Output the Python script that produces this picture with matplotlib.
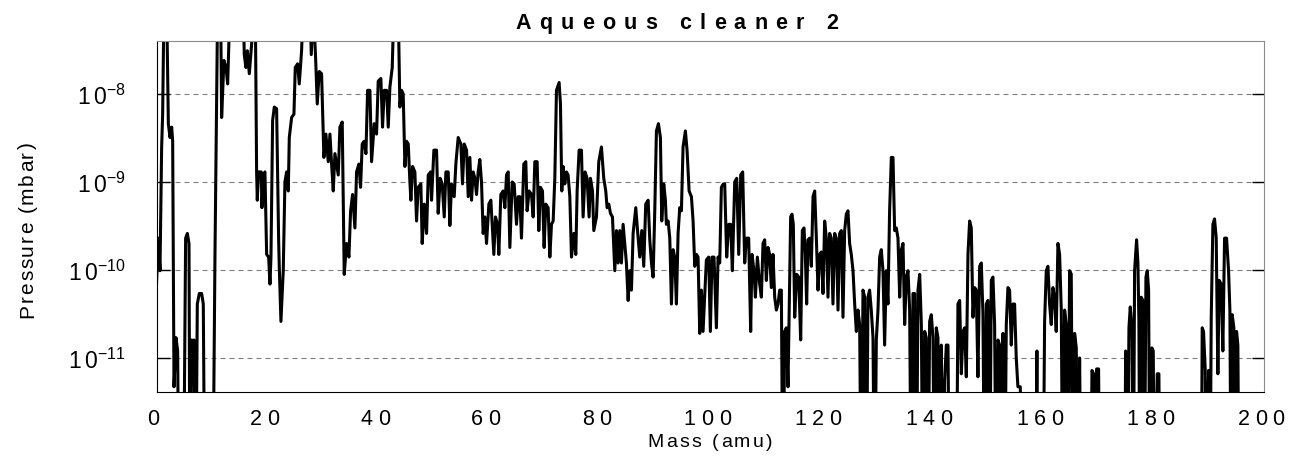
import numpy as np
import matplotlib.pyplot as plt
from matplotlib.ticker import FixedLocator, NullLocator
from matplotlib.font_manager import FontProperties, findfont, get_font

plt.rcParams['font.family'] = ['Liberation Sans', 'DejaVu Sans']

# mass spectrum, in segments (amu, mbar)
# 1e-7 = off the top of the scale, 1e-13 = below the bottom
mass_1 = [0.0, 0.33, 0.63, 0.93, 1.11, 1.35, 1.84, 2.14, 2.44, 2.74, 2.92, 3.16, 3.52, 3.82, 4.06,
          4.84, 5.26, 5.57, 5.87, 6.05, 6.35, 6.53, 6.77, 7.07, 7.37, 7.73, 8.15, 8.45, 8.75, 10.14,
          10.56, 10.86, 11.04, 11.58, 11.76, 12.18, 12.55, 12.85, 13.27, 15.67, 15.85, 16.15, 16.40,
          16.76, 17.18, 17.60, 17.84, 18.08, 18.20, 18.44, 18.92, 19.04, 19.28, 19.58, 19.89, 20.25,
          20.49, 20.67, 20.97, 21.27, 21.69, 22.05, 22.17, 22.47, 22.89, 23.19, 23.50, 23.80, 23.98,
          24.40, 24.82, 25.06, 25.48, 25.78, 26.20, 26.50, 27.71, 27.95, 28.31, 28.73, 29.03, 29.39,
          29.81, 30.11, 30.23, 30.59, 31.02, 31.32, 31.62, 31.92]
press_1 = [6.9e-11, 2.3e-10, 9.8e-11, 2.5e-9, 5.9e-9, 1e-7, 1e-7, 4.6e-9, 3.2e-9, 4.2e-9, 2.9e-9,
           4.7e-12, 1.7e-11, 1.2e-11, 1e-13, 1e-13, 2.3e-10, 2.6e-10, 2.0e-10, 1e-13, 1.6e-11, 7.2e-12,
           1.6e-11, 1e-13, 4.1e-11, 5.4e-11, 5.4e-11, 4.1e-11, 1e-13, 1e-13, 1.5e-10, 7.7e-9, 1e-7,
           1e-7, 5.4e-9, 2.4e-8, 2.0e-8, 1.3e-8, 1e-7, 1e-7, 2.8e-8, 2.0e-8, 3.1e-8, 1.7e-8, 3.7e-8,
           1e-7, 1e-7, 1.3e-9, 6.2e-10, 1.3e-9, 1.3e-9, 5.1e-10, 1.2e-9, 1.3e-9, 1.5e-10, 1.4e-10,
           6.9e-11, 1.4e-10, 5.0e-9, 7.1e-9, 6.8e-9, 2.3e-10, 1.1e-10, 2.6e-11, 9.8e-11, 1.0e-9,
           1.3e-9, 7.9e-10, 3.2e-9, 5.4e-9, 5.9e-9, 2.0e-8, 2.2e-8, 1.3e-8, 3.1e-8, 1e-7, 1e-7,
           2.8e-8, 1e-7, 2.6e-8, 7.7e-9, 1.8e-8, 1.7e-8, 3.8e-9, 1.9e-9, 3.5e-9, 1.7e-9, 3.5e-9,
           1.6e-9, 7.9e-10]

mass_2 = [32.22, 32.82, 33.12, 33.54, 33.90, 34.33, 34.75, 35.05, 35.41, 35.83, 36.13, 36.55, 36.85,
          37.15, 37.51, 37.82, 38.12, 38.54, 38.84, 39.32, 39.74, 40.04, 40.52, 40.82, 41.13, 41.55,
          41.85, 42.15, 42.57, 42.87, 43.65, 43.95, 44.25, 44.55, 44.86, 45.16, 45.46, 45.76, 45.94,
          46.24, 46.66, 46.96, 47.26, 47.74, 47.98, 48.35, 48.77, 49.07, 49.49, 49.67, 50.09, 50.57,
          50.87, 51.23, 51.59, 51.96, 52.26, 52.68, 52.98, 53.28, 53.76, 54.06, 54.48, 54.96, 55.26,
          55.57, 55.99, 56.29, 56.59, 56.89, 57.19, 57.49, 57.79, 58.09, 58.39, 58.69, 58.99, 59.30,
          59.60, 60.02, 60.38, 60.62, 60.92, 61.22, 61.58, 61.82, 62.18, 62.60, 62.91, 63.21, 63.51,
          63.81, 64.23, 64.59, 65.01, 65.31]
press_2 = [2.1e-9, 1.2e-9, 4.2e-9, 4.8e-9, 8.9e-11, 2.0e-10, 1.4e-10, 4.7e-10, 7.2e-10, 3.0e-10,
           1.3e-9, 1.6e-9, 8.7e-10, 2.7e-9, 2.9e-9, 2.1e-9, 1.1e-8, 1.1e-8, 1.7e-9, 4.6e-9, 3.5e-9,
           1.4e-8, 1.5e-8, 4.2e-9, 1.1e-8, 1.1e-8, 4.2e-9, 1.2e-8, 2.0e-8, 1e-7, 1e-7, 7.1e-9, 1.1e-8,
           1.0e-8, 1.5e-9, 2.9e-9, 2.7e-9, 1.0e-9, 6.2e-10, 1.5e-9, 1.3e-9, 3.6e-10, 8.7e-10, 9.5e-10,
           2.0e-10, 5.6e-10, 2.6e-10, 1.2e-9, 1.3e-9, 6.2e-10, 2.3e-9, 2.3e-9, 4.4e-10, 1.1e-9,
           9.5e-10, 4.0e-10, 1.3e-9, 1.3e-9, 3.2e-10, 9.5e-10, 6.8e-10, 1.6e-9, 3.2e-9, 2.7e-9,
           9.5e-10, 2.7e-9, 2.3e-9, 6.8e-10, 1.9e-9, 6.2e-10, 1.3e-9, 1.1e-9, 7.2e-10, 1.3e-9, 1.8e-9,
           1.0e-9, 2.6e-10, 4.0e-10, 2.0e-10, 5.6e-10, 6.2e-10, 3.3e-10, 1.5e-10, 4.0e-10, 3.3e-10,
           1.5e-10, 7.2e-10, 7.9e-10, 5.1e-10, 1.2e-9, 1.3e-9, 1.8e-10, 1.0e-9, 9.5e-10, 3.3e-10,
           6.8e-10]

mass_3 = [65.61, 65.91, 66.33, 66.69, 66.93, 67.29, 67.72, 68.02, 68.32, 68.74, 69.04, 69.34, 69.70,
          70.00, 70.30, 70.72, 71.03, 71.33, 71.63, 71.93, 72.23, 72.71, 72.95, 73.19, 73.43, 73.73,
          74.03, 74.33, 74.64, 74.94, 75.36, 75.72, 75.96, 76.32, 76.74, 77.04, 77.40, 77.76, 78.12,
          78.37, 78.73, 78.97, 79.45, 79.87, 80.35, 80.77, 81.13, 81.37, 81.68, 81.98, 82.34, 82.76,
          83.06, 83.36, 83.66, 83.96, 84.26, 84.56, 84.86, 85.17, 85.47, 85.77, 86.07, 86.55, 86.91,
          87.27, 87.63, 87.99, 88.35, 88.78, 89.08, 89.38, 89.68, 89.98, 90.28, 90.64, 91.00, 91.24,
          91.60, 91.90, 92.08, 92.39, 92.69, 92.99, 93.29, 93.59, 93.89, 94.19, 94.49, 94.79, 95.09,
          95.51, 95.81, 96.18, 96.60, 96.90, 97.20, 97.50, 97.80, 98.10, 98.40, 98.70]
press_3 = [6.8e-10, 2.3e-10, 1.6e-9, 1.7e-9, 4.7e-10, 7.9e-10, 7.2e-10, 4.0e-10, 1.7e-9, 1.7e-9,
           2.8e-10, 8.7e-10, 7.9e-10, 1.8e-10, 5.6e-10, 5.1e-10, 1.4e-10, 3.3e-10, 3.6e-10, 1.1e-9,
           1.1e-8, 1.35e-8, 7.7e-9, 7.9e-10, 1.5e-9, 9.5e-10, 1.3e-9, 1.2e-9, 6.8e-10, 1.4e-10,
           2.6e-10, 1.5e-10, 7.9e-10, 2.3e-9, 2.3e-9, 4.0e-10, 1.3e-9, 1.1e-9, 4.0e-10, 1.1e-9,
           7.9e-10, 2.8e-10, 4.0e-10, 1.7e-9, 2.5e-9, 1.1e-9, 7.9e-10, 5.1e-10, 5.6e-10, 4.4e-10,
           4.0e-10, 9.8e-11, 2.8e-10, 1.2e-10, 2.8e-10, 1.2e-10, 3.3e-10, 2.0e-10, 1.2e-10, 4.5e-11,
           9.8e-11, 5.9e-11, 2.6e-10, 5.1e-10, 2.6e-10, 1.4e-10, 2.8e-10, 1.1e-10, 5.6e-10, 6.2e-10,
           2.2e-10, 1.2e-10, 8.3e-11, 4.7e-10, 3.8e-9, 4.6e-9, 3.2e-9, 3.6e-10, 9.5e-10, 6.2e-10,
           3.3e-10, 3.6e-10, 2.3e-10, 4.1e-11, 1.7e-10, 1.4e-10, 4.1e-11, 2.6e-10, 5.1e-10, 4.7e-10,
           2.5e-9, 3.8e-9, 2.3e-9, 7.9e-10, 6.8e-10, 3.6e-10, 1.1e-10, 1.5e-10, 1.4e-10, 1.9e-11,
           5.9e-11, 2.0e-11]

mass_4 = [99.30, 99.72, 100.02, 100.32, 100.68, 101.11, 101.41, 101.71, 102.01, 102.37, 102.61,
          102.97, 103.33, 103.69, 103.99, 104.42, 104.78, 105.14, 105.50, 105.86, 106.22, 106.52,
          106.94, 107.30, 107.54, 107.90, 108.15, 108.51, 108.93, 109.23, 109.53, 109.83, 110.13,
          110.43, 110.73, 111.03, 111.33, 111.64, 111.94, 112.24, 112.54, 112.84, 113.14, 113.44,
          113.74, 114.04, 114.34, 114.52, 114.76, 115.00, 115.25, 115.61, 115.97, 116.33, 116.63,
          116.93, 117.17, 117.41, 117.65, 117.95, 118.25, 118.56, 118.86, 119.16, 119.46, 119.76,
          120.06, 120.36, 120.66, 120.96, 121.26, 121.56, 121.86, 122.16, 122.47, 122.77, 123.07,
          123.37, 123.67, 123.97, 124.27, 124.57, 124.87, 125.17, 125.47, 125.78, 126.08, 126.38,
          126.68, 126.98, 127.28, 127.58, 127.88, 128.18, 128.48, 128.78, 129.08, 129.39, 129.69,
          129.99, 130.29, 130.59, 130.89, 131.19, 131.49, 131.79, 132.09, 132.39]
press_4 = [1.3e-10, 1.4e-10, 2.0e-11, 1.4e-10, 1.4e-10, 2.2e-11, 1.4e-10, 1.2e-10, 8.7e-10, 9.5e-10,
           9.5e-10, 1.4e-10, 3.3e-10, 3.3e-10, 9.8e-11, 1.0e-9, 1.1e-9, 1.5e-10, 1.2e-9, 1.3e-9,
           1.2e-10, 2.3e-10, 2.3e-10, 2.0e-11, 1.5e-10, 9.8e-11, 4.9e-11, 1.4e-10, 6.9e-11, 4.9e-11,
           2.0e-10, 2.2e-10, 7.6e-11, 1.8e-10, 1.5e-10, 6.3e-11, 1.5e-10, 4.9e-11, 3.5e-11, 4.1e-11,
           5.9e-11, 5.9e-11, 1e-13, 2.0e-11, 2.2e-11, 4.7e-12, 8.3e-11, 4.0e-10, 4.3e-10, 3.3e-10,
           2.9e-11, 8.9e-11, 8.3e-11, 1.6e-11, 2.8e-10, 3.0e-10, 1.5e-10, 4.1e-11, 2.2e-10, 2.3e-10,
           1.1e-10, 6.8e-10, 7.9e-10, 2.3e-10, 5.9e-11, 1.5e-10, 1.6e-10, 5.4e-11, 3.6e-10, 2.3e-10,
           4.9e-11, 2.6e-10, 2.3e-10, 4.1e-11, 2.6e-10, 2.3e-10, 3.5e-11, 2.6e-10, 2.8e-10, 2.9e-11,
           2.8e-10, 4.3e-10, 4.7e-10, 2.0e-10, 1.5e-10, 9.8e-11, 4.1e-11, 2.0e-11, 3.5e-11, 2.4e-11,
           1e-13, 5.9e-11, 4.9e-11, 1e-13, 4.9e-11, 5.9e-11, 3.5e-11, 1.7e-11, 1e-13, 1.6e-11,
           3.5e-11, 1.4e-10, 1.7e-10, 9.8e-11, 1.4e-11, 9.8e-11, 4.1e-11, 4.7e-10]

mass_5 = [132.70, 133.00, 133.30, 133.60, 133.90, 134.21, 134.51, 134.81, 135.11, 135.41, 135.71,
          136.01, 136.31, 136.61, 136.91, 137.21, 137.51, 137.82, 138.12, 138.42, 138.72, 139.02,
          139.32, 139.62, 139.92, 140.22, 140.52, 140.82, 141.12, 141.43, 141.73, 142.03, 142.33,
          142.63, 142.93, 143.23, 144.43, 144.73, 145.04, 145.34, 145.64, 145.94, 146.24, 146.54,
          146.84, 147.14, 147.44, 147.74, 148.04, 148.34, 148.65, 148.95, 149.25, 149.55, 149.85,
          150.15, 150.45, 150.75, 151.05, 151.35, 151.65, 151.96, 152.26, 152.56, 152.86, 153.16,
          153.46, 153.76, 154.06, 154.36, 154.66, 154.96, 155.26, 155.56, 155.99, 156.17, 158.69,
          158.99, 159.18, 160.08, 160.38, 160.68, 160.98, 161.28, 161.58, 161.88, 162.18, 162.48,
          162.79, 163.09, 163.39, 163.69, 163.99, 164.29, 164.59, 164.89, 165.19, 165.49]
press_5 = [1.9e-9, 1.9e-9, 2.8e-10, 3.0e-10, 2.3e-10, 4.9e-11, 1.7e-10, 2.0e-10, 2.4e-11, 8.3e-11,
           9.8e-11, 3.5e-11, 1e-13, 5.4e-11, 5.4e-11, 1e-13, 5.9e-11, 8.9e-11, 2.4e-11, 1e-13,
           2.0e-11, 1.7e-11, 1e-13, 2.6e-11, 3.1e-11, 1.7e-11, 1e-13, 2.2e-11, 1.7e-11, 1e-13,
           1.4e-11, 1e-13, 5.5e-12, 1.4e-11, 1.4e-11, 1e-13, 1e-13, 4.1e-11, 4.5e-11, 6.6e-12,
           2.0e-11, 2.2e-11, 6.1e-12, 1.5e-10, 3.6e-10, 3.0e-10, 2.9e-11, 6.3e-11, 5.9e-11, 6.1e-12,
           1.1e-10, 1.2e-10, 3.1e-11, 1e-13, 4.1e-11, 4.5e-11, 1e-13, 7.6e-11, 8.3e-11, 2.4e-11,
           1e-13, 1.6e-11, 1.4e-11, 1e-13, 1.9e-11, 1e-13, 2.4e-11, 6.3e-11, 5.9e-11, 1.4e-11,
           4.1e-11, 4.1e-11, 1.0e-11, 4.7e-12, 4.7e-12, 1e-13, 1e-13, 1.2e-11, 1e-13, 1e-13, 2.6e-11,
           9.8e-11, 1.1e-10, 4.1e-11, 2.4e-11, 6.3e-11, 4.9e-11, 2.0e-11, 2.0e-10, 1.5e-10, 3.5e-11,
           1e-13, 3.5e-11, 2.4e-11, 1e-13, 9.8e-11, 9.0e-11, 1e-13]

mass_6 = [165.80, 166.10, 166.40, 166.70, 167.00, 168.69, 168.93, 169.23, 169.53, 169.77, 170.13,
          170.37, 174.83, 175.01, 175.31, 175.61, 175.85, 176.15, 176.39, 176.63, 176.99, 177.23,
          177.41, 177.59, 177.83, 178.13, 178.38, 178.68, 178.92, 179.16, 179.40, 179.76, 180.00,
          180.24, 180.72, 181.02, 181.26, 188.66, 188.84, 189.08, 189.39, 189.63, 189.99, 190.23,
          190.47, 190.77, 191.07, 191.37, 191.67, 191.91, 192.27, 192.57, 192.88, 193.24, 193.60,
          193.84, 194.08, 194.26, 194.56, 194.80, 195.04, 195.28, 195.52, 200.0]
press_6 = [1.9e-11, 1.3e-11, 1e-13, 1.0e-11, 1e-13, 1e-13, 7.2e-12, 6.6e-12, 1e-13, 7.5e-12, 7.5e-12,
           1e-13, 1e-13, 1.2e-11, 1e-13, 2.2e-11, 3.8e-11, 2.2e-11, 1e-13, 9.8e-11, 2.2e-10, 1.2e-10,
           2.6e-11, 1e-13, 4.9e-11, 4.5e-11, 1e-13, 8.3e-11, 9.8e-11, 5.9e-11, 1e-13, 1.3e-11,
           1.2e-11, 1e-13, 6.6e-12, 6.6e-12, 1e-13, 1e-13, 2.2e-11, 2.0e-11, 7.2e-12, 1e-13, 7.2e-12,
           1e-13, 2.9e-11, 3.3e-10, 3.8e-10, 2.3e-10, 6.6e-12, 7.6e-11, 6.9e-11, 1.2e-11, 2.3e-10,
           2.3e-10, 9.8e-11, 3.5e-11, 1e-13, 3.1e-11, 2.2e-11, 1e-13, 2.0e-11, 1.4e-11, 1e-13, 1e-13]

x_ticks = [0, 20, 40, 60, 80, 100, 120, 140, 160, 180, 200]
y_ticks = [1e-11, 1e-10, 1e-9, 1e-8]
y_exps = ['-11', '-10', '-9', '-8']

W, H = 1297, 477
fig = plt.figure(figsize=(W / 100, H / 100), dpi=100)


def tracked(x, y, s, size, gap, weight='normal', vertical=False):
    """letter-spaced text, centred on x (on y if vertical), baseline at the other coordinate (pixels)"""
    prop = FontProperties(family='Liberation Sans', size=size, weight=weight)
    font = get_font(findfont(prop))
    font.set_size(size, 100)
    adv = [font.load_char(ord(c)).linearHoriAdvance / 65536 for c in s]
    pos = -(sum(adv) + gap * (len(s) - 1)) / 2
    for c, a in zip(s, adv):
        if c != ' ':
            if vertical:
                fig.text(x / W, 1 - (y - pos) / H, c, fontproperties=prop, rotation=90,
                         rotation_mode='anchor', ha='left', va='baseline')
            else:
                fig.text((x + pos) / W, 1 - y / H, c, fontproperties=prop,
                         ha='left', va='baseline')
        pos += a + gap


mass = np.concatenate([mass_1, mass_2, mass_3, mass_4, mass_5, mass_6])
press = np.concatenate([press_1, press_2, press_3, press_4, press_5, press_6])

ax = fig.add_axes([156.5 / W, 1 - 393 / H, (1264 - 156.5) / W, (393 - 42) / H])
ax.plot(mass, press, color='black', lw=2.2)

ax.set_yscale('log')
ax.set_xlim(0, 200)
ax.set_ylim(4.1e-12, 4.0e-8)

ax.xaxis.set_major_locator(FixedLocator(x_ticks))
ax.set_xticklabels([])
ax.yaxis.set_major_locator(FixedLocator(y_ticks))
ax.yaxis.set_minor_locator(NullLocator())
ax.set_yticklabels([r'$\mathregular{1\,0^{%s}}$' % e for e in y_exps], fontsize=16.5)

ax.tick_params(axis='x', length=0)
ax.tick_params(axis='y', direction='in', length=9, width=1, right=True, pad=22)

ax.yaxis.grid(True, ls=(0, (4.5, 3.6)), color='#7f7f7f', lw=0.8)
ax.set_axisbelow(True)

for side in ['top', 'right']:
    ax.spines[side].set_color('#8c8c8c')
for side in ['left', 'bottom']:
    ax.spines[side].set_color('black')

# x tick labels, letter-spaced like the rest of the text, sitting slightly left of the tick
for t in x_ticks:
    tx = ax.transData.transform((t, 1e-10))[0]
    tracked(tx - 3, 425, str(t), 15.5, 5.5)

tracked(677, 29, 'Aqueous cleaner 2', 15.5, 8.2, weight='bold')
tracked(710, 447, 'Mass (amu)', 14, 2.5)
tracked(33, 230, 'Pressure (mbar)', 15, 1.8, vertical=True)

fig.savefig('out.png', dpi=100)
